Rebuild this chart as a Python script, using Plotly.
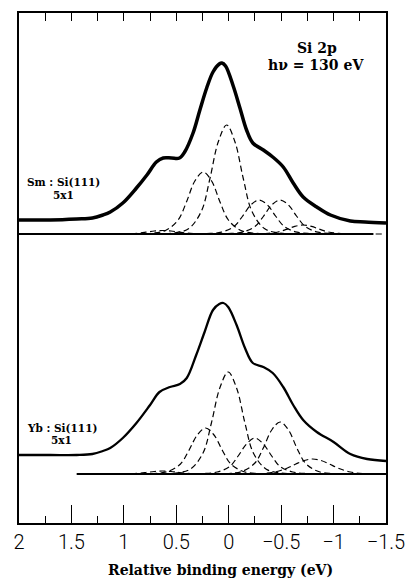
import plotly.graph_objects as go

# ---------------- data ----------------
# Binding energy axis (eV), reversed: 2 ... -1.5
# Sm : Si(111) 5x1 total spectrum (arbitrary intensity units)
sm_energy = [2.0, 1.7, 1.45, 1.3, 1.2, 1.13, 1.01, 0.88, 0.78, 0.69, 0.625, 0.545,
             0.47, 0.42, 0.34, 0.275, 0.21, 0.15, 0.09, 0.065, 0.03, -0.043, -0.107,
             -0.17, -0.23, -0.33, -0.42, -0.52, -0.615, -0.71, -0.84, -0.97, -1.16,
             -1.3, -1.5]
sm_intensity = [303, 303, 304, 305, 308, 311, 320, 335, 348, 361, 365, 365,
                365, 371, 390, 413, 435, 451, 459, 460, 457, 437, 415,
                393, 380, 373, 366, 356, 340, 326, 316, 308, 302,
                301, 300]

# Yb : Si(111) 5x1 total spectrum
yb_energy = [2.0, 1.7, 1.45, 1.3, 1.2, 1.13, 1.01, 0.88, 0.75, 0.66, 0.56, 0.465,
             0.40, 0.31, 0.23, 0.15, 0.09, 0.05, 0.005, -0.075, -0.155, -0.23,
             -0.33, -0.42, -0.52, -0.615, -0.71, -0.84, -1.0, -1.16, -1.32, -1.5]
yb_intensity = [68, 68, 68, 69, 72, 75, 85, 100, 118, 131, 136, 139,
                145, 168, 191, 213, 219, 220, 216, 198, 175, 160,
                156, 150, 136, 118, 103, 91, 81, 69, 64, 62]

# Fit baselines (level and energy extent)
sm_base_level = 289
sm_base_energy = [2.0, -1.38]
yb_base_level = 49
yb_base_energy = [1.45, -1.5]

# Fit components: centers (eV), sampled at energy offsets, heights above baseline
comp_offsets = [-0.75, -0.5, -0.36, -0.24, -0.16, -0.08, 0, 0.08, 0.16, 0.24, 0.36, 0.5, 0.75]

sm_comp_centers = [0.02, 0.243, -0.29, -0.49, -0.71, 0.63]
sm_comp_values = [
    [0, 1.0, 5.5, 23, 55, 92, 109, 92, 55, 23, 5.5, 1.0, 0],
    [0, 0.7, 3.5, 14, 32, 53, 62, 53, 32, 14, 3.5, 0.7, 0],
    [0, 0.4, 1.8, 7.5, 17.5, 29, 34, 29, 17.5, 7.5, 1.8, 0.4, 0],
    [0, 0.4, 1.8, 7.5, 17.5, 29, 34, 29, 17.5, 7.5, 1.8, 0.4, 0],
    [0, 0.1, 0.5, 2.0, 4.6, 7.6, 9, 7.6, 4.6, 2.0, 0.5, 0.1, 0],
    [0, 0.0, 0.2, 0.8, 1.8, 3.0, 3.5, 3.0, 1.8, 0.8, 0.2, 0.0, 0],
]

yb_comp_centers = [0.005, 0.22, -0.25, -0.49, -0.80, 0.63]
yb_comp_values = [
    [0, 1.0, 5, 21, 51, 86, 102, 86, 51, 21, 5, 1.0, 0],
    [0, 0.5, 2.5, 10, 23.5, 39, 46, 39, 23.5, 10, 2.5, 0.5, 0],
    [0, 0.4, 2.0, 7.5, 18, 30, 36, 30, 18, 7.5, 2.0, 0.4, 0],
    [0, 0.5, 2.7, 11, 26, 44, 52, 44, 26, 11, 2.7, 0.5, 0],
    [0, 0.3, 2.0, 6, 10, 13.5, 15, 13.5, 10, 6, 2.0, 0.3, 0],
    [0, 0.0, 0.2, 0.7, 1.5, 2.5, 3, 2.5, 1.5, 0.7, 0.2, 0.0, 0],
]

x_ticks = [2, 1.5, 1, 0.5, 0, -0.5, -1, -1.5]
x_minor_ticks = [1.75, 1.25, 0.75, 0.25, -0.25, -0.75, -1.25]
x_top_ticks = [1.75, 1.5, 1.25, 1, 0.75, 0.5, 0.25, 0, -0.25, -0.5, -0.75, -1, -1.25]

# ---------------- figure ----------------
fig = go.Figure()

dash_style = dict(color="black", width=1.2, dash="6px,3.5px")

def add_components(centers, values, base):
    for c, vals in zip(centers, values):
        fig.add_trace(go.Scatter(
            x=[c + o for o in comp_offsets],
            y=[base + v for v in vals],
            mode="lines", line=dict(shape="spline", **dash_style),
            hoverinfo="skip", showlegend=False))

# baselines
fig.add_trace(go.Scatter(x=sm_base_energy, y=[sm_base_level] * 2, mode="lines",
                         line=dict(color="black", width=1.8), showlegend=False))
fig.add_trace(go.Scatter(x=yb_base_energy, y=[yb_base_level] * 2, mode="lines",
                         line=dict(color="black", width=1.8), showlegend=False))

add_components(sm_comp_centers, sm_comp_values, sm_base_level)
add_components(yb_comp_centers, yb_comp_values, yb_base_level)

# spectra
fig.add_trace(go.Scatter(x=sm_energy, y=sm_intensity, mode="lines",
                         line=dict(color="black", width=3.5, shape="spline"),
                         showlegend=False))
fig.add_trace(go.Scatter(x=yb_energy, y=yb_intensity, mode="lines",
                         line=dict(color="black", width=2.3, shape="spline"),
                         showlegend=False))

# invisible trace to activate the top axis
fig.add_trace(go.Scatter(x=[0], y=[0], xaxis="x2", mode="markers",
                         marker=dict(opacity=0), hoverinfo="skip", showlegend=False))

serif = "DejaVu Serif"
ann_font = dict(family=serif, size=14, color="black", weight="bold")
lab_font = dict(family=serif, size=10.5, color="black", weight="bold")
annotations = [
    dict(x=-0.84, y=475, text="Si 2p", font=ann_font),
    dict(x=-0.83, y=458, text="hν = 130 eV", font=ann_font),
    dict(x=1.58, y=341, text="Sm : Si(111)", font=lab_font),
    dict(x=1.58, y=328, text="5x1", font=lab_font),
    dict(x=1.59, y=95.5, text="Yb : Si(111)", font=lab_font),
    dict(x=1.59, y=83, text="5x1", font=lab_font),
]
for a in annotations:
    a.update(xref="x", yref="y", showarrow=False, xanchor="center", yanchor="middle")

# axis title as paper annotation
annotations.append(dict(
    x=0.55, y=-0.092, xref="paper", yref="paper", showarrow=False,
    xanchor="center", yanchor="middle", text="Relative binding energy (eV)",
    font=dict(family=serif, size=14, color="black", weight="bold")))

fig.update_layout(
    width=413, height=580,
    margin=dict(l=19, r=27, t=13, b=57, autoexpand=False),
    paper_bgcolor="white", plot_bgcolor="white",
    showlegend=False,
    annotations=annotations,
    xaxis=dict(
        range=[2, -1.5], tickmode="array", tickvals=x_ticks,
        ticktext=[("−" + str(abs(v))) if v < 0 else str(v) for v in x_ticks],
        ticks="inside", ticklen=18, tickwidth=1.4, tickcolor="black",
        minor=dict(tickmode="array", tickvals=x_minor_ticks,
                   ticks="inside", ticklen=7, tickwidth=1.4, tickcolor="black",
                   showgrid=False),
        showline=True, linecolor="black", linewidth=1.5,
        showgrid=False, zeroline=False, automargin=False,
        tickfont=dict(family="Roboto", size=20, color="black", weight=300),
    ),
    xaxis2=dict(
        overlaying="x", side="top", range=[2, -1.5], anchor="y",
        tickmode="array", tickvals=x_top_ticks,
        ticks="inside", ticklen=8, tickwidth=1.4, tickcolor="black",
        showticklabels=False, showline=True, linecolor="black", linewidth=1.5,
        showgrid=False, zeroline=False, automargin=False,
    ),
    yaxis=dict(
        range=[0, 510], showticklabels=False, ticks="",
        showline=True, mirror=True, linecolor="black", linewidth=1.5,
        showgrid=False, zeroline=False, automargin=False,
    ),
)

fig.write_html("out.html")
